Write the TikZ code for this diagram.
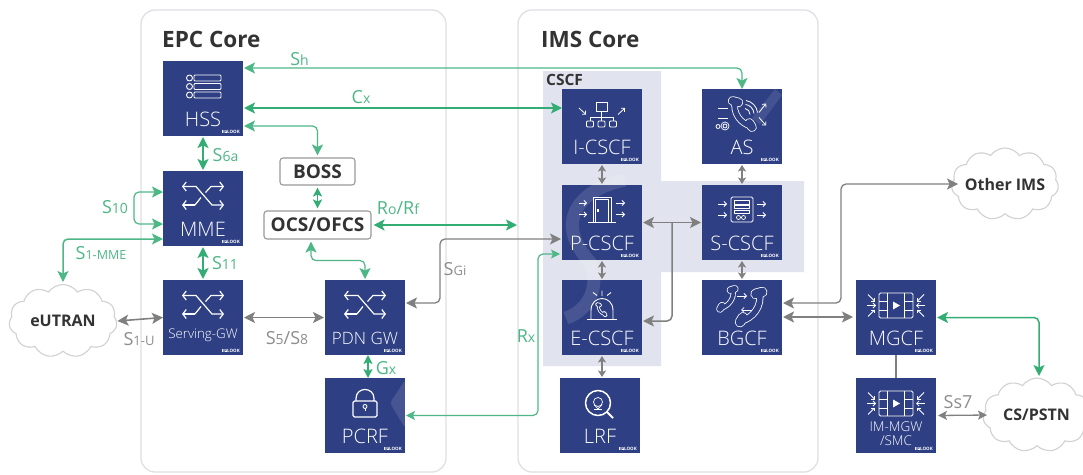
\documentclass[tikz,border=0pt]{standalone}
\usepackage{fontspec}
\setmainfont{Open Sans}
\newfontfamily\lf[UprightFont={* Light}]{Open Sans}
\usetikzlibrary{arrows.meta,shapes.symbols,calc}
\definecolor{blk}{HTML}{2E3F84}
\definecolor{grn}{HTML}{34AD74}
\definecolor{lgrn}{HTML}{4DB786}
\definecolor{gry}{HTML}{808080}
\definecolor{bord}{HTML}{DFE0E6}
\definecolor{lav}{HTML}{E1E4EE}
\definecolor{ink}{HTML}{333333}
\newcommand{\fs}[1]{\fontsize{#1}{#1}\selectfont}
\tikzset{
 x=1pt,y=-1pt,
 bigtip/.tip={Stealth[length=11pt,width=11pt,inset=2.5pt]},
 midtip/.tip={Stealth[length=9pt,width=9pt,inset=2pt]},
 smtip/.tip={Stealth[length=6.5pt,width=8pt,inset=1.5pt]},
 corebox/.style={draw=bord,line width=1.3pt,rounded corners=14pt},
 blockbox/.style={fill=blk,minimum width=80pt,minimum height=75pt,inner sep=0pt,outer sep=0pt},
 blocktext/.style={text=white,inner sep=0pt,align=center},
 tagtext/.style={text=white,inner sep=0pt,font=\fs{4.5}\bfseries},
 softbox/.style={draw=gry!80,fill=white,line width=1.1pt,rounded corners=3pt,inner sep=0pt,text=ink,font=\fs{19}\bfseries},
 cloudy/.style={cloud,cloud puffs=11,cloud puff arc=110,draw=black!18,fill=white,line width=1.1pt,inner sep=0pt,outer sep=0pt},
 cloudtext/.style={inner sep=0pt,text=ink,font=\fs{16}\bfseries},
 title/.style={inner sep=0pt,text=ink,font=\fs{22.5}\bfseries},
 glab/.style={inner sep=0pt,text=lgrn},
 ylab/.style={inner sep=0pt,text=gry!90},
 bigg/.style={grn,line width=1.8pt,bigtip-bigtip},
 thing/.style={lgrn,line width=1.2pt,rounded corners=5pt,bigtip-bigtip},
 bigy/.style={gry,line width=1.6pt,rounded corners=5pt,bigtip-bigtip},
 smally/.style={gry,line width=1.4pt,smtip-smtip},
 ic/.style={draw=white,line width=.9pt,line join=round},
 ar/.style={draw=white,line width=.8pt,-{Straight Barb[length=2.5pt,width=5pt]}},
 sw/.style={draw=white,line width=1.2pt,{Straight Barb[length=3.5pt,width=9pt]}-{Straight Barb[length=3.5pt,width=9pt]}},
}
\newcommand{\lab}[3]{\fs{#1}#2\fs{#3}}
\newcommand{\blk}[6]{%
 \node[blockbox] (#1) at (#2,#3) {};
 \node[blocktext,font=\lf\fs{#6}] (#1-l) at ([yshift=-#5pt]#1.center) {#4};
 \node[tagtext] (#1-t) at ([xshift=28pt,yshift=-33pt]#1.center) {\setlength{\fboxsep}{.3pt}\colorbox{white}{\textcolor{blk}{IP}}LOOK};
}
\newcommand{\swicon}{%
 \draw[sw] (-21,-22) -- (-7,-22) -- (9,-3.5) -- (21,-3.5);
 \draw[sw,-] (-8,-3.5) -- (-2,-11);
 \draw[white,line width=1.2pt,{Straight Barb[length=3.5pt,width=9pt]}-] (-21,-3.5) -- (-8,-3.5);
 \draw[white,line width=1.2pt,-{Straight Barb[length=3.5pt,width=9pt]}] (2.5,-16) -- (8,-22) -- (21,-22);
}
\newcommand{\filmicon}{%
 \draw[ic,rounded corners=1.5pt] (-17,-24.5) rectangle (17,0.5);
 \draw[ic] (-9,-24.5) -- (-9,0.5) (8,-24.5) -- (8,0.5) (-17,-16.5) -- (-9,-16.5) (-17,-7.5) -- (-9,-7.5) (8,-16.5) -- (17,-16.5) (8,-7.5) -- (17,-7.5);
 \fill[white] (-3,-16) -- (4,-12) -- (-3,-8) -- cycle;
 \draw[ar] (-28,-23) -- (-21,-16); \draw[ar] (-29,-12) -- (-20,-12); \draw[ar] (-28,-1) -- (-21,-8);
 \draw[ar] (28,-23) -- (21,-16); \draw[ar] (29,-12) -- (20,-12); \draw[ar] (28,-1) -- (21,-8);
}
% handset: #1 = scope options, #2 = size factor for the strokes
\newcommand{\phoneicon}[2]{%
 \begin{scope}[#1]
 \draw[white,line width=#2*6.5pt,line cap=round] (-6,-12) .. controls (-9,0) and (0,10) .. (9,12);
 \draw[white,line width=#2*9.5pt,line cap=round] (-8.5,-12) -- (-3,-10.5) (7.5,9) -- (10,13);
 \draw[blk,line width=#2*6.5pt-1.6pt,line cap=round] (-6,-12) .. controls (-9,0) and (0,10) .. (9,12);
 \draw[blk,line width=#2*9.5pt-1.6pt,line cap=round] (-8.5,-12) -- (-3,-10.5) (7.5,9) -- (10,13);
 \end{scope}
}
\begin{document}
\begin{tikzpicture}
\useasboundingbox (0,0) rectangle (1083,474);
\fill[white] (0,0) rectangle (1083,474);
% containers
\node[corebox,minimum width=305pt,minimum height=462pt] (epc) at (293.5,241) {};
\node[corebox,minimum width=300pt,minimum height=462pt] (ims) at (668,241) {};
\node[title,anchor=west] (epct) at (162,39) {EPC Core};
\node[title,anchor=west] (imst) at (541,39) {IMS Core};
\fill[lav] (543,71) -- (661,71) -- (661,181) -- (804,181) -- (804,272) -- (661,272) -- (661,366) -- (543,366) -- cycle;
\node[inner sep=0pt,text=ink,font=\fs{15.5}\bfseries,anchor=west] (cscf) at (546,80) {CSCF};
% blocks
\blk{hss}{203}{98.5}{HSS}{20.5}{20}
\blk{mme}{203}{208.5}{MME}{20.5}{20}
\blk{sgw}{203}{317.5}{Serving-GW}{17.5}{13.3}
\blk{pdn}{365}{317.5}{PDN GW}{20.5}{17}
\blk{pcrf}{365}{415.5}{PCRF}{20.5}{20}
\blk{icscf}{602}{126.5}{I-CSCF}{20.5}{20}
\blk{as}{742}{126.5}{AS}{20.5}{20}
\blk{pcscf}{602}{222.5}{P-CSCF}{20.5}{20}
\blk{scscf}{742}{222.5}{S-CSCF}{20.5}{20}
\blk{ecscf}{602}{317.5}{E-CSCF}{20.5}{20}
\blk{bgcf}{742}{317.5}{BGCF}{20.5}{20}
\blk{lrf}{600}{415.5}{LRF}{20.5}{20}
\blk{mgcf}{896}{317.5}{MGCF}{20.5}{20}
\blk{imgw}{896}{415.5}{IM-MGW\\[1pt]/SMC}{18}{13.5}
% watermark
\begin{scope}
 \clip (562,89) rectangle (642,355);
 \draw[white,opacity=.12,line width=13pt] (625,180) .. controls (575,190) and (555,225) .. (590,262) .. controls (600,285) and (590,310) .. (566,318);
\end{scope}
\begin{scope}
 \clip (325,378) rectangle (405,453);
 \fill[white,opacity=.12,rounded corners=3pt] (405,380) -- (390,403) -- (405,428) -- cycle;
\end{scope}
\begin{scope}
 \clip (702,89) rectangle (782,164);
 \fill[white,opacity=.1] (775,89) -- (782,95) -- (760,125) -- (752,118) -- cycle;
\end{scope}
% HSS icon
\begin{scope}[shift={(203,98.5)}]
 \foreach \r in {-20.5,-12,-3.5}{
  \draw[ic,rounded corners=1pt] (-9,\r-3) rectangle (18,\r+3);
  \draw[ic,fill=blk] (-13.5,\r) circle[radius=3pt];
 }
\end{scope}
% switch icons
\begin{scope}[shift={(203,208.5)}]\swicon\end{scope}
\begin{scope}[shift={(203,317.5)}]\swicon\end{scope}
\begin{scope}[shift={(365,317.5)}]\swicon\end{scope}
% lock
\begin{scope}[shift={(365,415.5)}]
 \draw[ic,line width=1.2pt,rounded corners=1.5pt] (-12,-14.5) rectangle (12,1.5);
 \draw[ic,line width=1.2pt] (-9,-14.5) -- (-9,-17) .. controls (-9,-29) and (9,-29) .. (9,-17) -- (9,-14.5);
 \draw[ic] (0,-9) circle[radius=2pt]; \draw[ic] (0,-7) -- (0,-4.5);
\end{scope}
% I-CSCF icon
\begin{scope}[shift={(602,126.5)}]
 \draw[ic] (-6,-24.5) rectangle (5.5,-15.5);
 \draw[ic] (-.5,-15.5) -- (-.5,-5.5) (-12,-5.5) -- (-12,-9.5) -- (11,-9.5) -- (11,-5.5);
 \foreach \q in {-12,-.5,11}{\draw[ic,fill=blk,rounded corners=1pt] (\q-3.5,-5.5) rectangle (\q+3.5,.5);}
 \draw[ar] (-23,-18.5) -- (-16,-12);
 \draw[ar] (16,-12) -- (23,-18.5);
\end{scope}
% AS icon
\begin{scope}[shift={(742,126.5)}]
 \draw[ic] (-24,-18.5) -- (-14,-18.5) (-24,-8.5) -- (-14,-8.5);
 \draw[ic,line width=.8pt] (-17,-.5) circle[radius=2pt] (-24,0) circle[radius=2pt];
 \draw[ic,line width=.7pt] (-17,-.5) circle[radius=4pt];
 \phoneicon{shift={(-.5,-13)},scale=1.05}{1}
 \draw[ic,line width=.8pt] (3,-18) .. controls (6,-17.5) and (8,-15) .. (8,-12)
   (3.5,-22) .. controls (8,-21.5) and (11.5,-18) .. (12,-13) (4,-26) .. controls (10,-25) and (15,-20) .. (15.5,-14);
 \draw[ar] (17,-14) -- (24,-23); \draw[ar] (17,-9) -- (24,-1);
\end{scope}
% P-CSCF door
\begin{scope}[shift={(602,222.5)}]
 \draw[ic] (-9,0) -- (-9,-25.5) -- (9,-25.5) -- (9,0);
 \draw[ic,line width=.7pt] (-6.5,0) -- (-6.5,-23) -- (6.5,-23) -- (6.5,0);
 \draw[ic] (-14,0) -- (14,0);
 \fill[white] (-5,-13.5) rectangle (-3,-10.5);
 \foreach \q in {-19.5,-8}{\draw[ar] (-23,\q) -- (-15,\q); \draw[ar] (14,\q) -- (23,\q);}
\end{scope}
% S-CSCF doc
\begin{scope}[shift={(742,222.5)}]
 \draw[ic,rounded corners=1.5pt] (-11,-25.5) rectangle (11,-.5);
 \draw[ic,line width=.7pt] (-7.5,-22.5) rectangle (7.5,-18.5) (-7.5,-17) rectangle (7.5,-14) (-7.5,-12) rectangle (7.5,-9);
 \draw[ic,line width=.7pt] (-3.5,-5) circle[radius=2pt] (1.5,-5) circle[radius=2pt];
 \foreach \q in {-18.5,-7.5}{\draw[ar] (-24,\q) -- (-15,\q); \draw[ar] (15,\q) -- (24,\q);}
\end{scope}
% E-CSCF siren
\begin{scope}[shift={(602,317.5)}]
 \draw[ic] (-11,1.5) -- (-11,-7) .. controls (-11,-23) and (11,-23) .. (11,-7) -- (11,1.5);
 \draw[ic] (-15,2) -- (15,2);
 \draw[ic] (0,-27) -- (0,-21.5) (-9,-25) -- (-5,-22) (9,-25) -- (5,-22);
 \phoneicon{shift={(-1,-8)},scale=.42}{.45}
\end{scope}
% BGCF phones
\begin{scope}[shift={(742,317.5)}]
 \phoneicon{shift={(-14,-19)},xscale=-.8,yscale=.8}{.8}
 \phoneicon{shift={(10,-11)},xscale=-1.2,yscale=1.2}{1.1}
 \draw[ar] (-5,-21.5) -- (5,-21.5);
 \draw[ar] (10,-7.5) -- (-1,-7.5);
\end{scope}
% LRF
\begin{scope}[shift={(600,415.5)}]
 \draw[ic,line width=1.5pt] (-2,-12.5) circle[radius=12.5pt];
 \draw[ic,line width=1.8pt] (7,-3.5) -- (13,2.5);
 \draw[ic,line width=.7pt] (-2,-13.5) circle[radius=4.5pt];
 \draw[ic,line width=.7pt] (-6,-11) -- (-2,-6.5) -- (2,-11);
 \draw[ic,line width=.6pt] (-6,-6) -- (2,-6);
\end{scope}
% MGCF icons
\begin{scope}[shift={(896,317.5)}]\filmicon\end{scope}
\begin{scope}[shift={(896,415.5)}]\filmicon\end{scope}
% plain nodes
\node[softbox,minimum width=75pt,minimum height=27pt] (boss) at (317.5,171.5) {BOSS};
\node[softbox,minimum width=107pt,minimum height=28pt] (ocs) at (317.5,225) {OCS/OFCS};
% clouds
\node[cloudy,minimum width=108pt,minimum height=73pt,label={[cloudtext]center:eUTRAN}] (eutran) at (63,321) {};
\node[cloudy,minimum width=107pt,minimum height=72pt,label={[cloudtext]center:Other IMS}] (other) at (1005,184) {};
\node[cloudy,minimum width=108pt,minimum height=74pt,label={[cloudtext,xshift=-.5pt]center:CS/PSTN}] (cspstn) at (1037,415) {};
\coordinate (roend) at (517,225);
\coordinate (tee) at ($(pcscf.east)!0.5!(scscf.west)$);
% green connectors
\draw[thing] ([xshift=1pt,yshift=30.5pt]hss.east) -| (as.north);
\draw[bigg] ([xshift=1pt,yshift=-9.5pt]hss.east) -- ([yshift=18.5pt]icscf.west);
\draw[thing] ([xshift=1pt,yshift=-27.5pt]hss.east) -| ([yshift=2pt]boss.north);
\draw[bigg] ([yshift=-1pt]hss.south) -- ([yshift=1pt]mme.north);
\draw[thing] ([yshift=16.5pt]mme.west) -- ++(-29,0) |- ([yshift=-15.5pt]mme.west);
\draw[thing,line width=1.5pt] ([yshift=-30.5pt]mme.west) -| ([yshift=39pt]eutran.center);
\draw[bigg] ([yshift=-1pt]mme.south) -- ([yshift=1pt]sgw.north);
\draw[bigg,line width=1.5pt,midtip-midtip] ([yshift=-2pt]boss.south) -- ([yshift=2pt]ocs.north);
\draw[bigg] ([xshift=2pt]ocs.east) -- (roend);
\draw[thing] ([xshift=-6.5pt,yshift=-2pt]ocs.south) -- ++(0,19) -| ([yshift=1pt]pdn.north);
\draw[bigg,line width=1.5pt,midtip-midtip] ([xshift=3pt]pdn.south) -- ([xshift=3pt]pcrf.north);
\draw[thing,midtip-midtip] ([xshift=1pt]pcrf.east) -- ++(132,0) |- ([xshift=-2pt,yshift=-31.5pt]pcscf.west);
\draw[bigg,line width=1.5pt,rounded corners=5pt] ([xshift=1pt]mgcf.east) -| ([xshift=2pt,yshift=39pt]cspstn.center);
% grey connectors
\draw[bigy] ([xshift=1pt]eutran.east) -- (sgw.west);
\draw[bigy] ([xshift=1pt]sgw.east) -- ([xshift=-1pt]pdn.west);
\draw[bigy,line width=1.3pt] ([xshift=1pt,yshift=14.5pt]pdn.east) -- ++(34,0) |- ([xshift=-1pt,yshift=-16.5pt]pcscf.west);
\draw[smally] ([yshift=-1pt]icscf.south) -- ([yshift=1pt]pcscf.north);
\draw[smally] ([yshift=-1pt]as.south) -- ([yshift=1pt]scscf.north);
\draw[smally] ([yshift=-1pt]pcscf.south) -- ([yshift=1pt]ecscf.north);
\draw[smally] ([yshift=-1pt]scscf.south) -- ([yshift=1pt]bgcf.north);
\draw[smally] ([yshift=-1pt]ecscf.south) -- ([xshift=2pt,yshift=1pt]lrf.north);
\draw[bigy] ([xshift=1pt]pcscf.east) -- ([xshift=-1pt]scscf.west);
\draw[gry,line width=1.5pt,rounded corners=5pt,-bigtip] (tee) |- ([xshift=1pt,yshift=-3.5pt]ecscf.east);
\draw[bigy,line width=1.3pt] ([xshift=1pt,yshift=14.5pt]bgcf.east) -- ++(58,0) |- ([xshift=-47pt]other.center);
\draw[bigy] ([xshift=1pt,yshift=.5pt]bgcf.east) -- ([xshift=-3pt,yshift=.5pt]mgcf.west);
\draw[gry,line width=1.5pt] (mgcf.south) -- (imgw.north);
\draw[bigy,line width=1.3pt,midtip-midtip] ([xshift=2pt]imgw.east) -- ([xshift=-50pt]cspstn.center);
% labels
\node[glab] (lsh) at (299.5,59) {\lab{18}{S}{14}h};
\node[glab] (lcx) at (361,97) {\lab{18}{C}{14}x};
\node[glab] (ls6a) at (225.5,155) {\lab{18}{S}{14}6a};
\node[glab] (ls10) at (115,207) {\lab{18}{S}{14}10};
\node[glab] (ls1m) at (101,253) {\lab{18}{S}{12.5}1-MME};
\node[glab] (ls11) at (225,263) {\lab{18}{S}{14}11};
\node[glab] (lro) at (398,208.5) {\lab{18}{R}{14}o\fs{18}/R\fs{14}f};
\node[ylab] (ls1u) at (139,339) {\lab{18}{S}{13}1-U};
\node[ylab] (ls5) at (287,338) {\lab{18}{S}{14}5\fs{18}/S\fs{14}8};
\node[glab] (lgx) at (386,368) {\lab{18}{G}{14}x};
\node[ylab] (lsg) at (455,269) {\lab{18}{S}{13}Gi};
\node[glab] (lrx) at (526,336) {\lab{18}{R}{14}x};
\node[ylab] (lss) at (958,402) {\lab{18}{S}{18}s7};
\end{tikzpicture}
\end{document}
